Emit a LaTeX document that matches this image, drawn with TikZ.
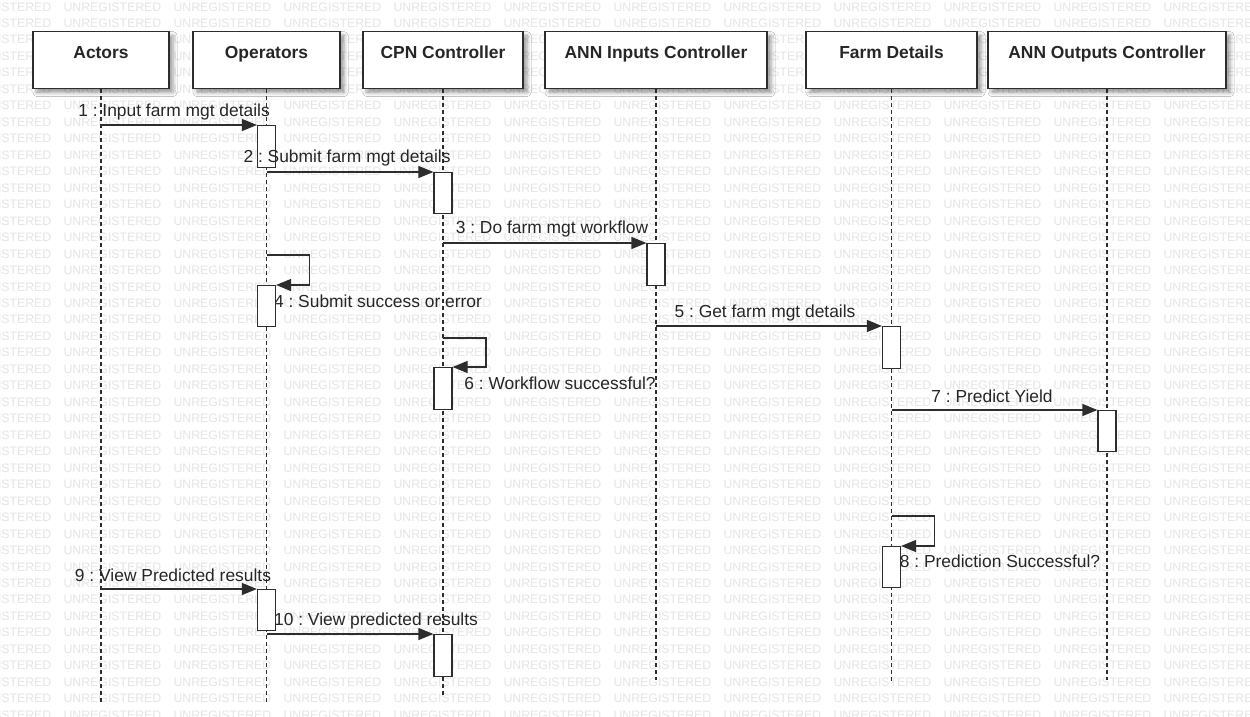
\documentclass[tikz,border=0pt]{standalone}
\usepackage{fontspec}
\setmainfont{Liberation Sans}
\usetikzlibrary{arrows.meta,positioning,shadows.blur}
\definecolor{linegray}{RGB}{45,45,45}
\definecolor{markgray}{RGB}{229,229,229}
\frenchspacing

\begin{document}
\begin{tikzpicture}[x=1pt,y=-1pt,>={Triangle[length=15pt,width=12pt]},
    font=\fontsize{17.4}{20}\selectfont, text=black!85, line width=1.2pt]
  \tikzstyle{wmark}=[anchor=west,inner sep=0pt,text=markgray,font=\fontsize{12.3}{12}\selectfont]
  \tikzstyle{head}=[draw=linegray,fill=white,anchor=north,inner sep=0pt,
    font=\fontsize{17.4}{20}\selectfont\bfseries,text height=27pt,text depth=30pt,
    blur shadow={shadow xshift=4pt,shadow yshift=-4pt,shadow blur radius=4pt}]
  \tikzstyle{life}=[draw=linegray,line width=1.5pt,dash pattern=on 4pt off 3pt]
  \tikzstyle{bar}=[draw=linegray,fill=white,anchor=north,inner sep=0pt,minimum width=18pt]
  \tikzstyle{lbl}=[inner sep=0pt]
  \tikzstyle{msg}=[draw=linegray,->]

  \useasboundingbox (0,0) rectangle (1250,717);
  \clip (0,0) rectangle (1250,717);
  \fill[white] (0,0) rectangle (1250,717);

  \foreach \r in {0,...,43}
    \foreach \c in {-1,...,11}
      \node[wmark] (w\r-\c) at (63+110*\c,6.8+16.47*\r) {UNREGISTERED};

  \node[head,minimum width=136pt] (actors) at (101,31)   {Actors};
  \node[head,minimum width=147pt] (ops)    at (266.5,31) {Operators};
  \node[head,minimum width=160pt] (cpn)    at (443,31)   {CPN Controller};
  \node[head,minimum width=222pt] (annin)  at (656,31)   {ANN Inputs Controller};
  \node[head,minimum width=171pt] (farm)   at (891.5,31) {Farm Details};
  \node[head,minimum width=238pt] (annout) at (1107,31)  {ANN Outputs Controller};

  \foreach \h/\e in {actors/703,ops/703,cpn/697,annin/680,farm/682,annout/680}
    \draw[life] (\h.south) -- (\h.south |- 0,\e);

  \node[lbl] (l4)  at (378,301)  {4 : Submit success or error};
  \node[lbl] (l8)  at (1000,561) {8 : Prediction Successful?};

  \node[bar,minimum height=42pt] (b1)  at (ops.south |- 0,125)    {};
  \node[bar,minimum height=41pt] (b2)  at (cpn.south |- 0,172)    {};
  \node[bar,minimum height=42pt] (b3)  at (annin.south |- 0,243)  {};
  \node[bar,minimum height=41pt] (b4)  at (ops.south |- 0,285)    {};
  \node[bar,minimum height=42pt] (b5)  at (farm.south |- 0,326)   {};
  \node[bar,minimum height=42pt] (b6)  at (cpn.south |- 0,367)    {};
  \node[bar,minimum height=41pt] (b7)  at (annout.south |- 0,410) {};
  \node[bar,minimum height=41pt] (b8)  at (farm.south |- 0,546)   {};
  \node[bar,minimum height=41pt] (b9)  at (ops.south |- 0,589)    {};
  \node[bar,minimum height=42pt] (b10) at (cpn.south |- 0,634)    {};

  \node[lbl] (l1)  at (174,112)  {1 : Input farm mgt details};
  \node[lbl] (l2)  at (347,158)  {2 : Submit farm mgt details};
  \node[lbl] (l3)  at (552,229)  {3 : Do farm mgt workflow};
  \node[lbl] (l5)  at (765,313)  {5 : Get farm mgt details};
  \node[lbl] (l6)  at (560,383)  {6 : Workflow successful?};
  \node[lbl] (l7)  at (992,396)  {7 : Predict Yield};
  \node[lbl] (l9)  at (173,575)  {9 : View Predicted results};
  \node[lbl] (l10) at (376,621)  {10 : View predicted results};

  \coordinate (s4) at (ops.south |- 0,255);
  \coordinate (s6) at (cpn.south |- 0,338);
  \coordinate (s8) at (farm.south |- 0,516);

  \draw[msg] (actors.south |- b1.north) -- (b1.north west);
  \draw[msg] (ops.south |- b2.north) -- (b2.north west);
  \draw[msg] (cpn.south |- b3.north) -- (b3.north west);
  \draw[msg] (s4) -- ++(43,0) |- (b4.north east);
  \draw[msg] (annin.south |- b5.north) -- (b5.north west);
  \draw[msg] (s6) -- ++(43,0) |- (b6.north east);
  \draw[msg] (farm.south |- b7.north) -- (b7.north west);
  \draw[msg] (s8) -- ++(43,0) |- (b8.north east);
  \draw[msg] (actors.south |- b9.north) -- (b9.north west);
  \draw[msg] (ops.south |- b10.north) -- (b10.north west);
\end{tikzpicture}
\end{document}
